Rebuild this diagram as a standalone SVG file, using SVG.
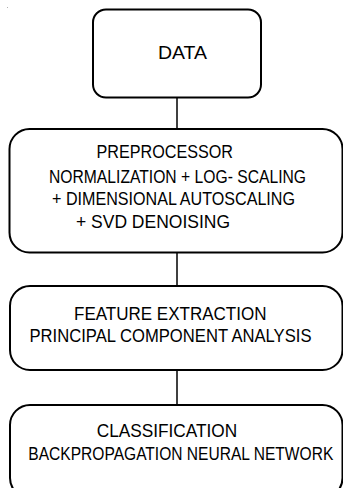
<svg xmlns="http://www.w3.org/2000/svg" width="343" height="488" viewBox="0 0 343 488">
  <style>
    .box { fill: #ffffff; stroke: #000000; stroke-width: 2; }
    .link { stroke: #000000; stroke-width: 1.5; fill: none; }
    .t { font-family: "Liberation Sans", Arial, sans-serif; font-size: 18px; fill: #000000; }
  </style>
  <rect width="343" height="488" fill="#ffffff"/>
  <rect x="7" y="7" width="1" height="1" fill="#b0b0b0"/>

  <g id="connectors">
    <line class="link" x1="177" y1="97" x2="177" y2="129"/>
    <line class="link" x1="177" y1="252" x2="177" y2="286"/>
    <line class="link" x1="177" y1="370" x2="177" y2="405"/>
  </g>

  <g id="data">
    <rect class="box" x="93" y="9.5" width="168" height="88" rx="13" ry="13"/>
    <text class="t" x="158" y="59" textLength="49" lengthAdjust="spacingAndGlyphs">DATA</text>
  </g>

  <g id="preprocessor">
    <rect class="box" x="9.5" y="129" width="333" height="123.5" rx="20" ry="20"/>
    <text class="t" x="96.5" y="158.3" textLength="136.5" lengthAdjust="spacingAndGlyphs">PREPROCESSOR</text>
    <text class="t" x="49" y="182.7" textLength="257" lengthAdjust="spacingAndGlyphs">NORMALIZATION + LOG- SCALING</text>
    <text class="t" x="52" y="205" textLength="243" lengthAdjust="spacingAndGlyphs">+ DIMENSIONAL AUTOSCALING</text>
    <text class="t" x="76" y="228.3" textLength="154" lengthAdjust="spacingAndGlyphs">+ SVD DENOISING</text>
  </g>

  <g id="feature-extraction">
    <rect class="box" x="10" y="286" width="332.5" height="84" rx="20" ry="20"/>
    <text class="t" x="74" y="320" textLength="192.5" lengthAdjust="spacingAndGlyphs">FEATURE EXTRACTION</text>
    <text class="t" x="29.5" y="341.7" textLength="282" lengthAdjust="spacingAndGlyphs">PRINCIPAL COMPONENT ANALYSIS</text>
  </g>

  <!-- bottom box runs past the lower edge of the canvas -->
  <g id="classification">
    <rect class="box" x="10" y="405" width="332.5" height="93" rx="20" ry="20"/>
    <text class="t" x="96.7" y="436.7" textLength="140.5" lengthAdjust="spacingAndGlyphs">CLASSIFICATION</text>
    <text class="t" x="28.3" y="460" textLength="305" lengthAdjust="spacingAndGlyphs">BACKPROPAGATION NEURAL NETWORK</text>
  </g>
</svg>
